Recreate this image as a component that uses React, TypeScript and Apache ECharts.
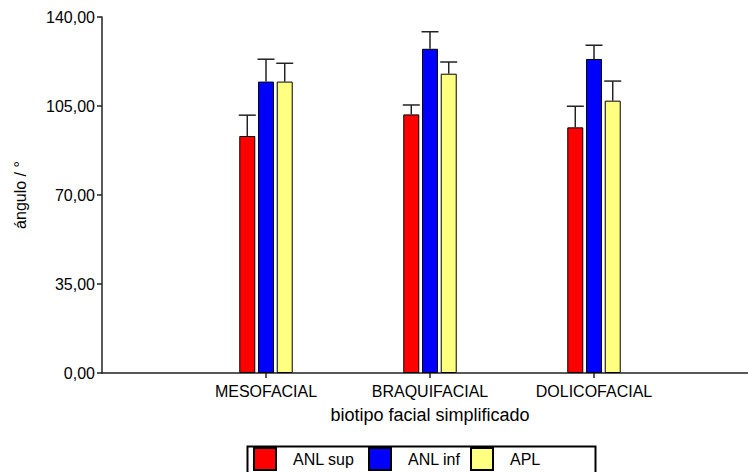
import React, { useEffect, useRef } from "react";
import * as echarts from "echarts";

const categories = ["MESOFACIAL", "BRAQUIFACIAL", "DOLICOFACIAL"];
const seriesNames = ["ANL sup", "ANL inf", "APL"];
const anlSupMean = [93.2, 101.7, 96.6];
const anlSupErr = [8.2, 3.7, 8.3];
const anlInfMean = [114.6, 127.5, 123.5];
const anlInfErr = [8.8, 6.7, 5.4];
const aplMean = [114.6, 117.7, 107.1];
const aplErr = [7.2, 4.6, 7.7];
const yTicks = [0, 35, 70, 105, 140];

const colors = ["#FF0000", "#0000FF", "#FFFF80"];
const FONT = "'Liberation Sans', Arial, sans-serif";
const CHART_W = 780;

export default function App() {
  const ref = useRef<HTMLDivElement>(null);
  useEffect(() => {
    if (!ref.current) return;
    const chart = echarts.init(ref.current, null, { renderer: "svg" });
    const axisCats = ["", ...categories, ""];
    const means = [anlSupMean, anlInfMean, aplMean];
    const errs = [anlSupErr, anlInfErr, aplErr];
    const barWidth = 16;
    const gapRatio = 0.17;
    const step = barWidth * (1 + gapRatio);

    const barSeries: any[] = means.map((m, i) => ({
      name: seriesNames[i],
      type: "bar",
      data: [null, ...m, null],
      barWidth,
      barGap: gapRatio * 100 + "%",
      itemStyle: { color: colors[i], borderColor: "#000", borderWidth: 1 },
      z: 2,
    }));

    const errSeries: any[] = means.map((m, i) => ({
      name: "err" + i,
      type: "custom",
      z: 3,
      clip: false,
      data: m.map((v, k) => [k + 1, v, v + errs[i][k]]),
      renderItem: (params: any, api: any) => {
        const base = api.coord([api.value(0), api.value(1)]);
        const top = api.coord([api.value(0), api.value(2)]);
        const x = base[0] + (i - 1) * step;
        const half = barWidth / 2 + 0.5;
        const style = { stroke: "#222", lineWidth: 1.5 };
        return {
          type: "group",
          children: [
            { type: "line", shape: { x1: x, y1: base[1], x2: x, y2: top[1] }, style },
            { type: "line", shape: { x1: x - half, y1: top[1], x2: x + half, y2: top[1] }, style },
          ],
        };
      },
    }));

    const legendLefts = [253, 368, 470];

    chart.setOption({
      animation: false,
      textStyle: { fontFamily: FONT },
      grid: { left: 102, top: 17, bottom: 99, right: CHART_W - 758, containLabel: false },
      legend: seriesNames.map((n, i) => ({
        left: legendLefts[i],
        top: 447,
        orient: "horizontal",
        itemWidth: 22,
        itemHeight: 22,
        padding: 0,
        icon: "rect",
        selectedMode: false,
        textStyle: { fontSize: 16, color: "#000", fontFamily: FONT, padding: [0, 0, 0, 12] },
        data: [n],
      })),
      graphic: [
        {
          type: "rect",
          left: 245,
          top: 444,
          shape: { width: 348, height: 40 },
          style: { fill: "none", stroke: "#000", lineWidth: 2 },
          silent: true,
        },
      ],
      xAxis: {
        type: "category",
        data: axisCats,
        boundaryGap: false,
        name: "biotipo facial simplificado",
        nameLocation: "middle",
        nameGap: 33,
        nameTextStyle: { fontSize: 18, color: "#000", fontFamily: FONT },
        axisLine: { show: true, lineStyle: { color: "#222", width: 1.5 } },
        axisTick: {
          show: true,
          length: 5,
          interval: (idx: number) => idx >= 1 && idx <= categories.length,
          lineStyle: { color: "#222", width: 1.5 },
        },
        axisLabel: {
          interval: 0,
          margin: 10,
          fontSize: 16,
          color: "#000",
          fontFamily: FONT,
        },
        splitLine: { show: false },
      },
      yAxis: {
        type: "value",
        min: yTicks[0],
        max: yTicks[yTicks.length - 1],
        interval: yTicks[1] - yTicks[0],
        name: "ángulo / °",
        nameLocation: "middle",
        nameGap: 74,
        nameTextStyle: { fontSize: 16, color: "#000", fontFamily: FONT },
        axisLine: { show: true, lineStyle: { color: "#222", width: 1.5 } },
        axisTick: { show: true, length: 5, lineStyle: { color: "#222", width: 1.5 } },
        axisLabel: {
          margin: 7,
          fontSize: 16,
          color: "#000",
          fontFamily: FONT,
          formatter: (v: number) => v.toFixed(2).replace(".", ","),
        },
        splitLine: { show: false },
      },
      series: [...barSeries, ...errSeries],
    });
    return () => chart.dispose();
  }, []);

  return (
    <div
      style={{
        position: "absolute",
        left: 0,
        top: 0,
        width: 748,
        height: 472,
        overflow: "hidden",
        background: "#fff",
      }}
    >
      <div ref={ref} style={{ width: CHART_W, height: 472 }} />
    </div>
  );
}
